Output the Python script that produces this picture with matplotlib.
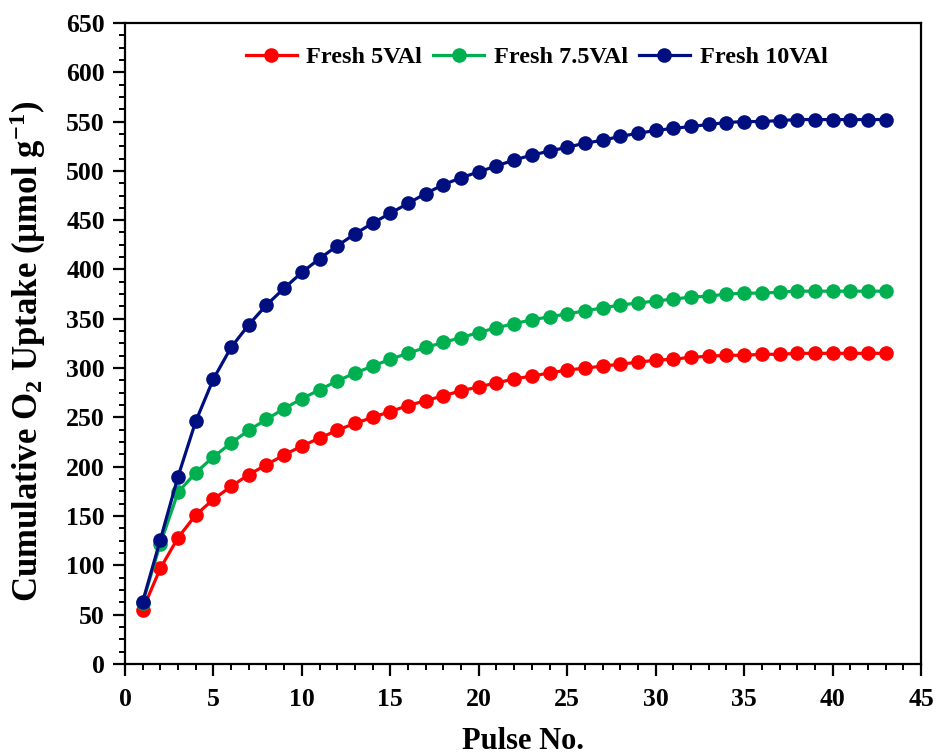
import matplotlib
matplotlib.use('Agg')
import matplotlib.pyplot as plt
from matplotlib.ticker import MultipleLocator

# pulse numbers and cumulative O2 uptake (umol/g)
pulses = list(range(1, 44))
fresh_5val = [55, 97, 128, 151, 167, 180, 192, 202, 212, 221, 229, 237, 244, 250, 256,
              262, 267, 272, 277, 281, 285, 289, 292, 295, 298, 300, 302, 304, 306, 308,
              309, 311, 312, 313, 313, 314, 314, 315, 315, 315, 315, 315, 315]
fresh_75val = [62, 122, 174, 194, 210, 224, 237, 248, 259, 269, 278, 287, 295, 302, 309,
               315, 321, 326, 331, 336, 341, 345, 349, 352, 355, 358, 361, 364, 366, 368,
               370, 372, 373, 375, 376, 376, 377, 378, 378, 378, 378, 378, 378]
fresh_10val = [63, 126, 190, 246, 289, 321, 344, 364, 381, 397, 411, 424, 436, 447, 457,
               467, 477, 486, 493, 499, 505, 511, 516, 520, 524, 528, 531, 535, 538, 541,
               543, 545, 547, 549, 550, 550, 551, 552, 552, 552, 552, 552, 552]
labels = ['Fresh 5VAl', 'Fresh 7.5VAl', 'Fresh 10VAl']
colors = ['#FF0000', '#00B050', '#000F80']

plt.rcParams['font.family'] = 'Liberation Serif'
plt.rcParams['font.weight'] = 'bold'
plt.rcParams['mathtext.default'] = 'regular'

fig = plt.figure(figsize=(9.36, 7.56), dpi=100)
ax = fig.add_axes([0.1335, 0.1217, 0.8505, 0.848])

for ys, lab, col in zip([fresh_5val, fresh_75val, fresh_10val], labels, colors):
    ax.plot(pulses, ys, '-o', color=col, lw=2.3, ms=9.5, label=lab)

ax.set_xlim(0, 45)
ax.set_ylim(0, 650)
ax.xaxis.set_major_locator(MultipleLocator(5))
ax.xaxis.set_minor_locator(MultipleLocator(1))
ax.yaxis.set_major_locator(MultipleLocator(50))
ax.yaxis.set_minor_locator(MultipleLocator(12.5))
ax.tick_params(which='major', length=8.5, width=1.6, labelsize=18.5)
ax.tick_params(axis='x', which='major', pad=9)
ax.tick_params(axis='y', which='major', pad=6)
ax.tick_params(which='minor', length=4.5, width=1.4)
for sp in ax.spines.values():
    sp.set_linewidth(1.6)

ax.set_xlabel('Pulse No.', fontsize=22, fontweight='bold', labelpad=11)
ax.set_ylabel('Cumulative O$_2$ Uptake (\u00b5mol g$^{-1}$)', fontsize=25,
              fontweight='bold')
ax.yaxis.set_label_coords(-0.097, 0.487)

ax.legend(loc='upper center', bbox_to_anchor=(0.517, 1.0), ncol=3, frameon=False,
          fontsize=17.5, handlelength=2.1, handletextpad=0.4, columnspacing=0.45,
          borderaxespad=0.55)

fig.savefig('out.png', dpi=100)
